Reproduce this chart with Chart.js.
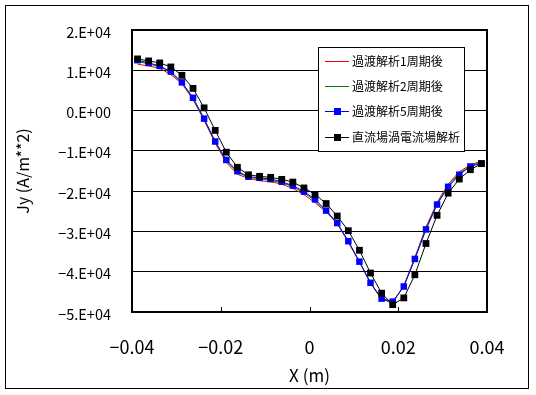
<!DOCTYPE html>
<html>
<head>
<meta charset="utf-8">
<script src="https://cdn.jsdelivr.net/npm/chart.js@4.4.0/dist/chart.umd.min.js"></script>
<style>
  html, body { margin: 0; padding: 0; background: #fff; }
  #wrap { width: 536px; height: 395px; }
</style>
</head>
<body>
<div id="wrap"><canvas id="chart" width="536" height="395"></canvas></div>
<script>
// x positions (m)
const xs = [
  -0.03875, -0.03625, -0.03375, -0.03125, -0.02875, -0.02625, -0.02375, -0.02125,
  -0.01875, -0.01625, -0.01375, -0.01125, -0.00875, -0.00625, -0.00375, -0.00125,
   0.00125,  0.00375,  0.00625,  0.00875,  0.01125,  0.01375,  0.01625,  0.01875,
   0.02125,  0.02375,  0.02625,  0.02875,  0.03125,  0.03375,  0.03625,  0.03875
];

const seriesNames = ['過渡解析1周期後', '過渡解析2周期後', '過渡解析5周期後', '直流場渦電流場解析'];

// Jy (A/m**2)
const transient1 = [
  11500, 11075, 10500, 8925, 6675, 2750, -2425, -8075,
  -12925, -15825, -16825, -17425, -17675, -18250, -19325, -20875,
  -22875, -25175, -28075, -32675, -37625, -42875, -46875, -47675,
  -43500, -36425, -28925, -22825, -18250, -15175, -13500, -12500
];
const transient2 = [
  12200, 11600, 10900, 9400, 6850, 3000, -2200, -7850,
  -12500, -15300, -16550, -16950, -17300, -17900, -18900, -20400,
  -22400, -25000, -28000, -32500, -37550, -42800, -46750, -47550,
  -43600, -36650, -29250, -23100, -18650, -15600, -13700, -12800
];
const transient5 = [
  12500, 11825, 11075, 9675, 7000, 3175, -2000, -7675,
  -12250, -15050, -16425, -16675, -17000, -17675, -18625, -20125,
  -22050, -24825, -27925, -32425, -37500, -42750, -46675, -47425,
  -43675, -36825, -29500, -23325, -18925, -15925, -13875, -13075
];
const dcEddy = [
  12825, 12325, 11825, 10825, 8750, 5500, 675, -4925,
  -10325, -14075, -15950, -16325, -16575, -17075, -17750, -19200,
  -20800, -23075, -26175, -29825, -34675, -40325, -45325, -48175,
  -46500, -40750, -33000, -26000, -20500, -17000, -14675, -13175
];

const xTickValues = [-0.04, -0.02, 0, 0.02, 0.04];
const xTickLabels = ['\u22120.04', '\u22120.02', '0', '0.02', '0.04'];
const yTickValues = [20000, 10000, 0, -10000, -20000, -30000, -40000, -50000];
const yTickLabels = ['2.E+04', '1.E+04', '0.E+00', '\u22121.E+04', '\u22122.E+04', '\u22123.E+04', '\u22124.E+04', '\u22125.E+04'];

const FONT = '"Noto Sans CJK JP", "Noto Sans", sans-serif';

function pts(ys) {
  return xs.map((x, i) => ({ x: x, y: ys[i] }));
}

const frame = {
  id: 'frame',
  beforeDraw(chart) {
    const ctx = chart.ctx;
    ctx.save();
    ctx.fillStyle = '#fff';
    ctx.fillRect(0, 0, chart.width, chart.height);
    ctx.strokeStyle = '#000';
    ctx.lineWidth = 1;
    ctx.strokeRect(5.5, 5.5, 523, 383);
    ctx.restore();
  },
  afterDatasetsDraw(chart) {
    const ctx = chart.ctx;
    const a = chart.chartArea;
    const xs_ = chart.scales.x;
    ctx.save();
    ctx.strokeStyle = '#000';
    // inner tick marks on the x axis
    ctx.lineWidth = 1;
    xTickValues.forEach(v => {
      const px = Math.round(xs_.getPixelForValue(v)) + 0.5;
      ctx.beginPath();
      ctx.moveTo(px, a.bottom);
      ctx.lineTo(px, a.bottom - 5);
      ctx.stroke();
    });
    ctx.lineWidth = 2;
    ctx.strokeRect(a.left, a.top, a.right - a.left, a.bottom - a.top);
    ctx.restore();
  },
  afterDraw(chart) {
    // legend box
    const ctx = chart.ctx;
    const bx = 318.5, by = 47.5, bw = 146, bh = 104;
    const rows = [61, 86, 111, 137];
    ctx.save();
    ctx.fillStyle = '#fff';
    ctx.fillRect(bx, by, bw, bh);
    ctx.strokeStyle = '#000';
    ctx.lineWidth = 1;
    ctx.strokeRect(bx, by, bw, bh);
    ctx.font = '12px ' + FONT;
    ctx.textBaseline = 'middle';
    ctx.textAlign = 'left';
    chart.data.datasets.forEach((ds, i) => {
      const y = rows[i] + 0.5;
      ctx.strokeStyle = ds.borderColor;
      ctx.lineWidth = 1;
      ctx.beginPath();
      ctx.moveTo(325, y);
      ctx.lineTo(349, y);
      ctx.stroke();
      if (ds.pointRadius > 0) {
        ctx.fillStyle = ds.pointBackgroundColor;
        ctx.fillRect(334, y - 3.5, 7, 7);
      }
      ctx.fillStyle = '#000';
      ctx.fillText(ds.label, 352, y);
    });
    ctx.restore();
  }
};

new Chart(document.getElementById('chart'), {
  type: 'line',
  data: {
    datasets: [
      { label: seriesNames[0], data: pts(transient1), borderColor: '#ff0000', borderWidth: 1,
        pointRadius: 0, order: 4 },
      { label: seriesNames[1], data: pts(transient2), borderColor: '#008000', borderWidth: 1,
        pointRadius: 0, order: 3 },
      { label: seriesNames[2], data: pts(transient5), borderColor: '#0000ff', borderWidth: 1,
        pointStyle: 'rect', pointRadius: 4.6, pointBackgroundColor: '#0000ff',
        pointBorderColor: '#0000ff', pointBorderWidth: 0, order: 2 },
      { label: seriesNames[3], data: pts(dcEddy), borderColor: '#000000', borderWidth: 1,
        pointStyle: 'rect', pointRadius: 4.8, pointBackgroundColor: '#000000',
        pointBorderColor: '#000000', pointBorderWidth: 0, order: 1 }
    ]
  },
  options: {
    responsive: false,
    animation: false,
    devicePixelRatio: 1,
    layout: { padding: { top: 30, right: 49, bottom: 0, left: 0 } },
    elements: { line: { tension: 0, fill: false } },
    plugins: {
      legend: { display: false },
      tooltip: { enabled: false }
    },
    scales: {
      x: {
        type: 'linear',
        min: -0.04, max: 0.04,
        afterBuildTicks(scale) { scale.ticks = xTickValues.map(v => ({ value: v })); },
        afterFit(scale) { scale.height = 83; },
        grid: { display: false, drawTicks: false },
        border: { display: false },
        ticks: {
          color: '#000', padding: 24, maxRotation: 0, autoSkip: false,
          font: { family: FONT, size: 18 },
          callback: (v) => { const i = xTickValues.findIndex(t => Math.abs(t - v) < 1e-9); return i >= 0 ? xTickLabels[i] : ''; }
        },
        title: { display: true, text: 'X (m)', color: '#000',
          font: { family: FONT, size: 17 }, padding: { top: 0, bottom: 9 } }
      },
      y: {
        type: 'linear',
        min: -50000, max: 20000,
        afterBuildTicks(scale) { scale.ticks = yTickValues.map(v => ({ value: v })); },
        afterFit(scale) { scale.width = 132; },
        grid: { color: '#000', lineWidth: 1, drawTicks: false },
        border: { display: false },
        ticks: {
          color: '#000', padding: 21, autoSkip: false, labelOffset: 2,
          font: { family: FONT, size: 14.5 },
          callback: (v) => { const i = yTickValues.indexOf(v); return i >= 0 ? yTickLabels[i] : ''; }
        },
        title: { display: true, text: 'Jy (A/m**2)', color: '#000',
          font: { family: FONT, size: 16 }, padding: { top: 13, bottom: 0 } }
      }
    }
  },
  plugins: [frame]
});
</script>
</body>
</html>
